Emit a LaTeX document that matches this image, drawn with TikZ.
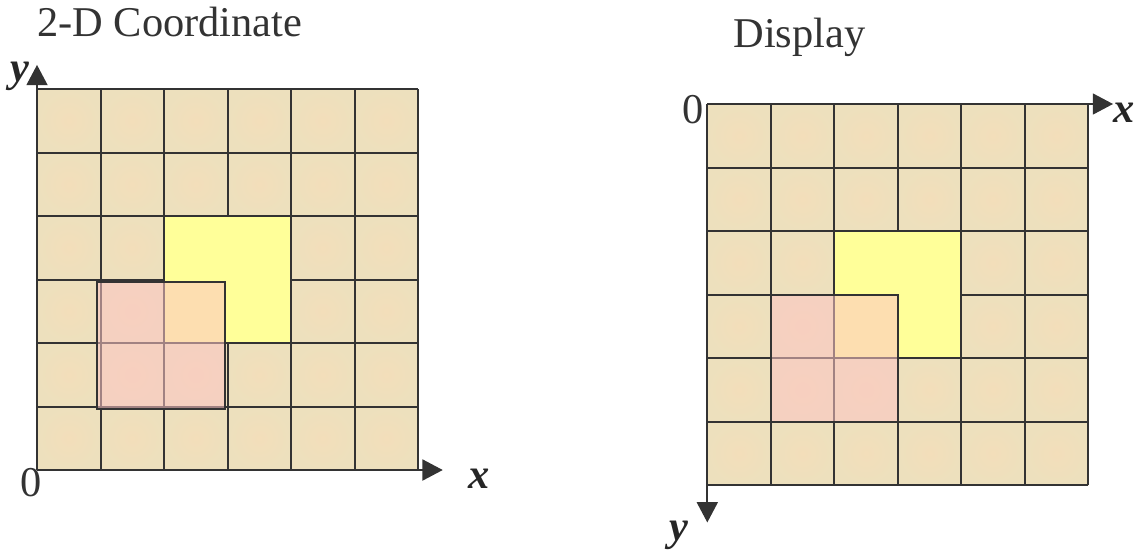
\documentclass[tikz,border=0pt]{standalone}
\usepackage{fontspec}
\setmainfont{Liberation Serif}
\usetikzlibrary{arrows.meta}
\definecolor{gridline}{HTML}{333333}
\definecolor{tanin}{RGB}{243,222,186}
\definecolor{tanout}{RGB}{237,224,189}
\definecolor{blockyellow}{RGB}{255,255,153}
\definecolor{overpink}{RGB}{252,196,196}

\begin{document}
\begin{tikzpicture}[x=1cm, y=1cm,
        tile/.style={inner color=tanin, outer color=tanout},
        cellline/.style={draw=gridline, line width=0.9pt},
        axis/.style={draw=gridline, line width=0.9pt, -{Triangle[length=3.2mm, width=3.3mm]}},
        title/.style={font=\fontsize{19}{21}\selectfont, text=black!80, inner sep=0pt, anchor=base west},
        axlbl/.style={font=\fontsize{19}{21}\selectfont\bfseries\itshape, text=black!85, inner sep=0pt},
        zero/.style={font=\fontsize{19}{21}\selectfont, text=black!80, inner sep=0pt},
      ]
      \useasboundingbox (-0.583,-1.26) rectangle (17.339,7.402);

      % left: 2-D coordinate, origin bottom left
      \begin{scope}
        \foreach \i in {0,...,5}
          \foreach \j in {0,...,5}
            \shade[tile] (\i,\j) rectangle ++(1,1);
        \draw[cellline] (0,0) grid (6,6);
        \draw[cellline, fill=blockyellow] (2,2) rectangle (4,4);
        \fill[overpink, fill opacity=0.55] (0.95,0.96) rectangle (2.96,2.96);
        \draw[cellline] (0.95,0.96) rectangle (2.96,2.96);
        \coordinate (lo) at (0,0);
        \coordinate (lx) at (6.39,0);
        \coordinate (ly) at (0,6.38);
        \draw[axis] (lo) -- (lx);
        \draw[axis] (lo) -- (ly);
        \node[axlbl] (lxlbl) at (6.96,-0.14) {x};
        \node[axlbl] (lylbl) at (-0.275,6.2) {y};
        \node[zero]  (lzero) at (-0.094,-0.205) {0};
      \end{scope}
      \node[title] (ltitle) at (0,6.83) {2-D Coordinate};

      % right: display, origin top left, y pointing down
      \begin{scope}[shift={(10.556,5.764)}, yscale=-1]
        \foreach \i in {0,...,5}
          \foreach \j in {0,...,5}
            \shade[tile] (\i,\j) rectangle ++(1,1);
        \draw[cellline] (0,0) grid (6,6);
        \draw[cellline, fill=blockyellow] (2,2) rectangle (4,4);
        \fill[overpink, fill opacity=0.55] (1,3) rectangle (3,5);
        \draw[cellline] (1,3) rectangle (3,5);
        \coordinate (ro) at (0,0);
        \coordinate (rx) at (6.39,0);
        \coordinate (ry) at (0,6.59);
        \draw[axis] (ro) -- (rx);
        \draw[axis] (ro) -- (ry);
        \node[axlbl] (rxlbl) at (6.56,0.14) {x};
        \node[axlbl] (rylbl) at (-0.44,6.79) {y};
        \node[zero]  (rzero) at (-0.225,0.095) {0};
      \end{scope}
      \node[title] (rtitle) at (10.96,6.65) {Display};
    \end{tikzpicture}
\end{document}
